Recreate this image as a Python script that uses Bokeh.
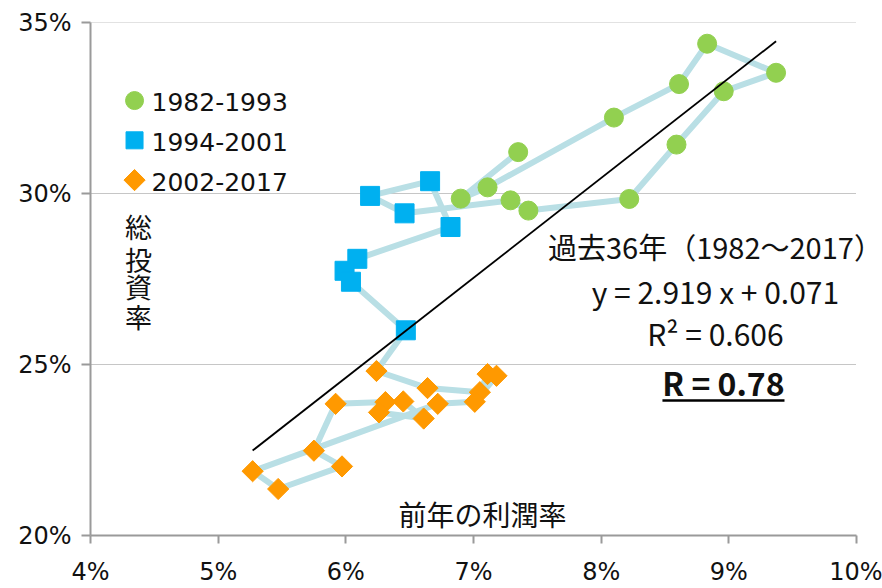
import math
from bokeh.plotting import figure
from bokeh.models import Range1d, FixedTicker, PrintfTickFormatter, Label
from bokeh.embed import file_html
from bokeh.resources import INLINE

# ---- data (previous-year profit rate %, gross investment rate %) ----
period_labels = ["1982-1993", "1994-2001", "2002-2017"]

profit_8293 = [7.35, 6.90, 7.11, 8.10, 8.61, 8.83, 9.37, 8.96, 8.59, 8.22, 7.43, 7.29]
invest_8293 = [31.21, 29.85, 30.18, 32.22, 33.20, 34.38, 33.53, 32.99, 31.43, 29.84, 29.50, 29.80]

profit_9401 = [6.46, 6.19, 6.66, 6.82, 6.09, 5.99, 6.04, 6.47]
invest_9401 = [29.42, 29.93, 30.36, 29.02, 28.09, 27.74, 27.42, 26.00]

profit_0217 = [6.24, 6.64, 7.05, 7.11, 7.18, 7.01, 6.72, 5.27, 5.47, 5.97,
               5.75, 5.92, 6.31, 6.26, 6.61, 6.45]
invest_0217 = [24.81, 24.31, 24.19, 24.72, 24.67, 23.91, 23.85, 21.88, 21.36, 22.02,
               22.48, 23.85, 23.90, 23.60, 23.42, 23.92]

x_ticks = [4, 5, 6, 7, 8, 9, 10]
y_ticks = [20, 25, 30, 35]

fit_slope = 2.919
fit_intercept = 0.071
fit_r2 = 0.606
fit_r = 0.78

title_text = "過去36年（1982〜2017）"
eq_text = f"y = {fit_slope:.3f} x + {fit_intercept:.3f}"
r2_text = f"R² = {fit_r2:.3f}"
r_text = f"R = {fit_r:.2f}"
x_title = "前年の利潤率"
y_title = "総投資率"

colors = ["#92d050", "#00b0f0", "#ff9900"]
path_color = "#b9dfe5"
axis_col = "#9a9a9a"
cjk = "Noto Sans CJK JP"
latin = "DejaVu Sans"

# ---- figure: frame from x=90 to the right edge, y=22..538 ----
x_end = x_ticks[-1] + 26 / (766 / (x_ticks[-1] - x_ticks[0]))
p = figure(width=882, height=588, output_backend="svg", toolbar_location=None,
           x_range=Range1d(x_ticks[0], x_end), y_range=Range1d(y_ticks[0], y_ticks[-1]),
           min_border_left=90, min_border_right=0, min_border_top=22,
           min_border_bottom=50)
p.outline_line_color = None
p.background_fill_color = "white"
p.border_fill_color = "white"

for ax in (p.xaxis[0], p.yaxis[0]):
    ax.axis_line_color = axis_col
    ax.axis_line_width = 2
    ax.major_tick_line_color = axis_col
    ax.major_tick_line_width = 2
    ax.minor_tick_line_color = None
    ax.major_tick_in = 0
    ax.major_label_text_font = latin
    ax.major_label_text_font_size = "24px"
    ax.major_label_text_color = "#111111"
    ax.formatter = PrintfTickFormatter(format="%d%%")

p.xaxis.ticker = FixedTicker(ticks=x_ticks)
p.xaxis.bounds = (x_ticks[0], x_ticks[-1])
p.yaxis.ticker = FixedTicker(ticks=y_ticks)
p.xaxis.major_tick_out = 8
p.xaxis.major_label_standoff = 14
p.yaxis.major_tick_out = 9
p.yaxis.major_label_standoff = 10

p.xgrid.grid_line_color = None
p.ygrid.grid_line_color = None
# dotted horizontal gridlines limited to the 4%..10% span
grid_vals = y_ticks[1:]
p.multi_line(xs=[[x_ticks[0], x_ticks[-1]] for _ in grid_vals],
             ys=[[g, g] for g in grid_vals],
             line_color="#8c8c8c", line_dash="1 1", line_width=1)

# connecting path (chronological)
all_x = profit_8293 + profit_9401 + profit_0217
all_y = invest_8293 + invest_9401 + invest_0217
p.line(all_x, all_y, line_color=path_color, line_width=6, line_join="round")

p.scatter(profit_8293, invest_8293, marker="circle", size=19,
          fill_color=colors[0], line_color=colors[0])
p.scatter(profit_9401, invest_9401, marker="square", size=19,
          fill_color=colors[1], line_color=colors[1])
p.scatter(profit_0217, invest_0217, marker="square", size=15, angle=math.pi / 4,
          fill_color=colors[2], line_color=colors[2])

# regression line over the data span
x_lo, x_hi = min(all_x), max(all_x)
fit_x = [x_lo, x_hi]
fit_y = [100 * (fit_slope * v / 100 + fit_intercept) for v in fit_x]
p.line(fit_x, fit_y, line_color="black", line_width=1.8)

# ---- legend (drawn as keys + labels at the top left of the plot) ----
leg_key_x = 4.345
leg_text_x = 4.478
leg_rows = [32.718, 31.555, 30.392]
p.scatter([leg_key_x], [leg_rows[0]], marker="circle", size=18,
          fill_color=colors[0], line_color=colors[0])
p.scatter([leg_key_x], [leg_rows[1]], marker="square", size=17,
          fill_color=colors[1], line_color=colors[1])
p.scatter([leg_key_x], [leg_rows[2]], marker="square", size=15, angle=math.pi / 4,
          fill_color=colors[2], line_color=colors[2])
for lab, yy in zip(period_labels, leg_rows):
    p.add_layout(Label(x=leg_text_x, y=yy - 0.05, text=lab, text_align="left",
                       text_baseline="middle", text_font=latin,
                       text_font_size="25px", text_color="#111111"))

# ---- annotations ----
p.add_layout(Label(x=8.895, y=28.474, text=title_text, text_align="center",
                   text_baseline="middle", text_font=cjk, text_font_size="29px",
                   text_color="#111111"))
p.add_layout(Label(x=8.895, y=27.137, text=eq_text, text_align="center",
                   text_baseline="middle", text_font=cjk, text_font_size="30px",
                   text_color="#111111"))
p.add_layout(Label(x=8.895, y=25.930, text=r2_text, text_align="center",
                   text_baseline="middle", text_font=cjk, text_font_size="30px",
                   text_color="#111111"))
p.add_layout(Label(x=8.958, y=24.491, text=r_text, text_align="center",
                   text_baseline="middle", text_font=cjk, text_font_size="32px",
                   text_font_style="bold", text_color="#111111"))
p.line([8.480, 9.436], [23.948, 23.948], line_color="black", line_width=2.5)

p.add_layout(Label(x=7.070, y=20.625, text=x_title, text_align="center",
                   text_baseline="middle", text_font=cjk, text_font_size="28px",
                   text_color="#111111"))
for ch, yy in zip(y_title, [29.026, 28.081, 27.267, 26.395]):
    p.add_layout(Label(x=4.376, y=yy, text=ch, text_align="center",
                       text_baseline="middle", text_font=cjk, text_font_size="27px",
                       text_color="#111111"))

open("out.html", "w").write(file_html(p, INLINE))
